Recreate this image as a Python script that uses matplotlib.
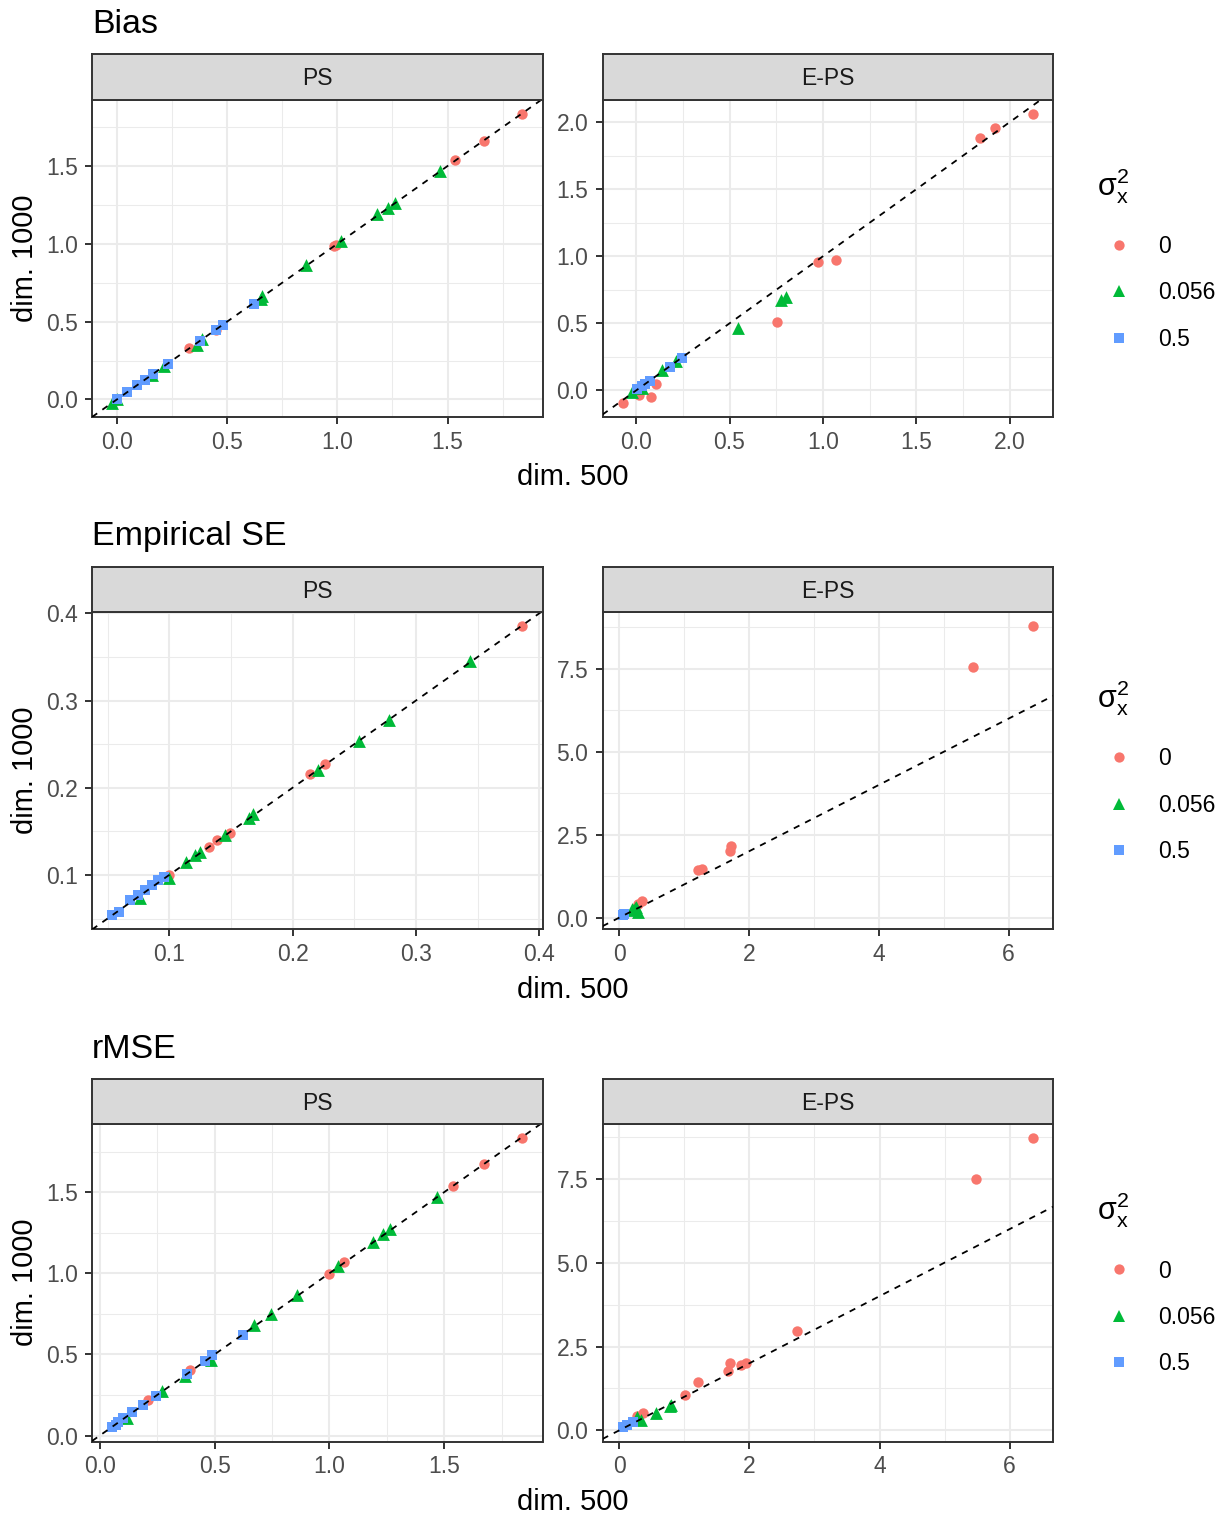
import matplotlib
matplotlib.use('Agg')
import matplotlib.pyplot as plt
from matplotlib.ticker import MultipleLocator, FormatStrFormatter
from matplotlib.lines import Line2D

plt.rcParams['font.family'] = ['Liberation Sans', 'DejaVu Sans']
plt.rcParams['mathtext.fontset'] = 'custom'
plt.rcParams['mathtext.rm'] = 'Liberation Sans'
plt.rcParams['mathtext.it'] = 'Liberation Sans:italic'

# ---- data ----
levels = ['0', '0.056', '0.5']
level_colors = ['#F8766D', '#00BA38', '#619CFF']
level_markers = ['o', '^', 's']
level_sizes = [56, 85, 54]

bias_ps_x = [1.838, 1.665, 1.536, 0.985, 0.995, 0.325, 0.45,
             1.465, 1.26, 1.231, 1.178, 1.018, 0.86, 0.66, 0.655, 0.388, 0.362, 0.215, 0.16, 0.0, -0.02,
             0.62, 0.483, 0.449, 0.376, 0.23, 0.165, 0.128, 0.09, 0.048, 0.0]
bias_ps_y = [1.835, 1.661, 1.539, 0.985, 0.99, 0.33, 0.445,
             1.468, 1.264, 1.232, 1.189, 1.017, 0.867, 0.667, 0.645, 0.388, 0.352, 0.212, 0.16, 0.0, -0.02,
             0.616, 0.48, 0.448, 0.373, 0.227, 0.163, 0.127, 0.09, 0.05, 0.0]
bias_ps_g = [0] * 7 + [1] * 14 + [2] * 10

bias_eps_x = [2.121, 1.92, 1.841, 1.071, 0.975, 0.755, 0.109, 0.08, 0.018, -0.07,
              0.80, 0.773, 0.545, 0.216, 0.139, -0.02, 0.03,
              0.246, 0.184, 0.073, 0.05, 0.005, 0.03]
bias_eps_y = [2.06, 1.955, 1.878, 0.975, 0.96, 0.507, 0.052, -0.045, -0.032, -0.09,
              0.70, 0.677, 0.465, 0.216, 0.149, -0.015, 0.02,
              0.241, 0.174, 0.067, 0.047, 0.01, 0.03]
bias_eps_g = [0] * 10 + [1] * 7 + [2] * 6

se_ps_x = [0.386, 0.226, 0.214, 0.149, 0.139, 0.132, 0.1,
           0.344, 0.278, 0.254, 0.221, 0.168, 0.165, 0.145, 0.125, 0.121, 0.114, 0.1, 0.0765,
           0.054, 0.059, 0.068, 0.075, 0.0805, 0.086, 0.091, 0.096]
se_ps_y = [0.385, 0.227, 0.2155, 0.1486, 0.14, 0.132, 0.1,
           0.345, 0.278, 0.254, 0.22, 0.17, 0.165, 0.146, 0.126, 0.123, 0.1145, 0.096, 0.073,
           0.054, 0.058, 0.0713, 0.077, 0.083, 0.0885, 0.094, 0.098]
se_ps_g = [0] * 7 + [1] * 12 + [2] * 8

se_eps_x = [6.37, 5.45, 1.73, 1.71, 1.27, 1.215, 0.36, 0.29,
            0.215, 0.24, 0.29, 0.2, 0.26,
            0.08, 0.06]
se_eps_y = [8.78, 7.57, 2.17, 2.01, 1.48, 1.43, 0.50, 0.40,
            0.22, 0.29, 0.17, 0.25, 0.32,
            0.1, 0.08]
se_eps_g = [0] * 8 + [1] * 5 + [2] * 2

rmse_ps_x = [1.839, 1.674, 1.538, 1.064, 1.0, 0.392, 0.208,
             1.468, 1.265, 1.235, 1.189, 1.039, 0.86, 0.744, 0.673, 0.483, 0.37, 0.269, 0.12,
             0.622, 0.49, 0.458, 0.381, 0.243, 0.186, 0.142, 0.102, 0.08, 0.07, 0.055]
rmse_ps_y = [1.831, 1.675, 1.537, 1.068, 0.998, 0.405, 0.216,
             1.469, 1.27, 1.239, 1.193, 1.043, 0.868, 0.751, 0.679, 0.467, 0.364, 0.272, 0.11,
             0.621, 0.494, 0.457, 0.381, 0.245, 0.187, 0.142, 0.107, 0.086, 0.066, 0.052]
rmse_ps_g = [0] * 7 + [1] * 12 + [2] * 11

rmse_eps_x = [6.35, 5.48, 2.73, 1.95, 1.875, 1.71, 1.67, 1.21, 1.017, 0.368, 0.28,
              0.80, 0.57, 0.34, 0.27, 0.78,
              0.21, 0.12, 0.06]
rmse_eps_y = [8.70, 7.50, 2.97, 2.02, 1.94, 2.01, 1.77, 1.44, 1.046, 0.518, 0.42,
              0.75, 0.53, 0.30, 0.40, 0.73,
              0.25, 0.15, 0.1]
rmse_eps_g = [0] * 11 + [1] * 5 + [2] * 3

row_titles = ['Bias', 'Empirical SE', 'rMSE']
panel_names = ['PS', 'E-PS']

# (x, y, group, xstep, xfmt, ystep, yfmt)
panels = [
    [(bias_ps_x, bias_ps_y, bias_ps_g, 0.5, '%.1f', 0.5, '%.1f'),
     (bias_eps_x, bias_eps_y, bias_eps_g, 0.5, '%.1f', 0.5, '%.1f')],
    [(se_ps_x, se_ps_y, se_ps_g, 0.1, '%.1f', 0.1, '%.1f'),
     (se_eps_x, se_eps_y, se_eps_g, 2, '%d', 2.5, '%.1f')],
    [(rmse_ps_x, rmse_ps_y, rmse_ps_g, 0.5, '%.1f', 0.5, '%.1f'),
     (rmse_eps_x, rmse_eps_y, rmse_eps_g, 2, '%d', 2.5, '%.1f')],
]

# ---- layout ----
W, H = 1222, 1513
fig = plt.figure(figsize=(W / 100, H / 100), dpi=100)


def box(x0, y0, x1, y1):
    return [x0 / W, 1 - y1 / H, (x1 - x0) / W, (y1 - y0) / H]


def expand(vals):
    lo, hi = min(vals), max(vals)
    d = (hi - lo) * 0.05
    return lo - d, hi + d


row_tops = [54, 566.5, 1078.5]
strip_h = 45.5
plot_h = 317.5
col_x = [(92, 542.5), (602.5, 1053)]
dark = '#333333'

for r in range(3):
    top = row_tops[r]
    fig.text(92 / W, 1 - (top - 21) / H, row_titles[r], fontsize=24.5, va='baseline', ha='left')
    for c in range(2):
        x0, x1 = col_x[c]
        xs, ys, gs, xstep, xfmt, ystep, yfmt = panels[r][c]
        ax = fig.add_axes(box(x0, top + strip_h, x1, top + strip_h + plot_h))
        ax.set_facecolor('white')
        for i in range(3):
            px = [xv for xv, g in zip(xs, gs) if g == i]
            py = [yv for yv, g in zip(ys, gs) if g == i]
            ax.scatter(px, py, s=level_sizes[i], c=level_colors[i], marker=level_markers[i],
                       linewidths=0, zorder=3)
        ax.set_xlim(*expand(xs))
        ax.set_ylim(*expand(ys))
        ax.axline((0, 0), slope=1, color='black', linestyle=(0, (3.5, 3.5)), linewidth=1.3, zorder=4)
        ax.xaxis.set_major_locator(MultipleLocator(xstep))
        ax.xaxis.set_minor_locator(MultipleLocator(xstep / 2))
        ax.yaxis.set_major_locator(MultipleLocator(ystep))
        ax.yaxis.set_minor_locator(MultipleLocator(ystep / 2))
        ax.xaxis.set_major_formatter(FormatStrFormatter(xfmt))
        ax.yaxis.set_major_formatter(FormatStrFormatter(yfmt))
        ax.grid(which='major', color='#EBEBEB', linewidth=1.5, zorder=0)
        ax.grid(which='minor', color='#EBEBEB', linewidth=0.75, zorder=0)
        ax.set_axisbelow(True)
        ax.tick_params(which='minor', length=0)
        ax.tick_params(axis='x', which='major', length=5.3, width=1.4, color=dark,
                       labelcolor='#4D4D4D', labelsize=16.5, pad=4.5)
        ax.tick_params(axis='y', which='major', length=5.3, width=1.4, color=dark,
                       labelcolor='#4D4D4D', labelsize=16.5, pad=5)
        for sp in ax.spines.values():
            sp.set_color(dark)
            sp.set_linewidth(1.4)

        sax = fig.add_axes(box(x0, top, x1, top + strip_h))
        sax.set_facecolor('#D9D9D9')
        sax.set_xticks([])
        sax.set_yticks([])
        for sp in sax.spines.values():
            sp.set_color(dark)
            sp.set_linewidth(1.4)
        sax.text(0.5, 0.46, panel_names[c], transform=sax.transAxes, ha='center', va='center',
                 fontsize=16.5, color='#1A1A1A')

        if c == 1:
            handles = [Line2D([], [], linestyle='none', marker=level_markers[i], color=level_colors[i],
                              markersize=[7.4, 9.2, 7.6][i], markeredgewidth=0) for i in range(3)]
            ax.legend(handles, levels, loc='upper left',
                      bbox_to_anchor=(1096 / W, 1 - (top + 181) / H), bbox_transform=fig.transFigure,
                      frameon=False, fontsize=16.5, borderpad=0, borderaxespad=0,
                      handlelength=2.0, handletextpad=0.72, labelspacing=1.02)
            fig.text(1097 / W, 1 - (top + 132) / H, r'$\mathrm{\sigma_x^2}$', fontsize=22,
                     ha='left', va='center')

    fig.text(572.5 / W, 1 - (top + 423) / H, 'dim. 500', fontsize=21, ha='center', va='center')
    fig.text(25 / W, 1 - (top + strip_h + plot_h / 2) / H, 'dim. 1000', fontsize=21,
             ha='center', va='center', rotation=90)

fig.savefig('out.png', dpi=100)
